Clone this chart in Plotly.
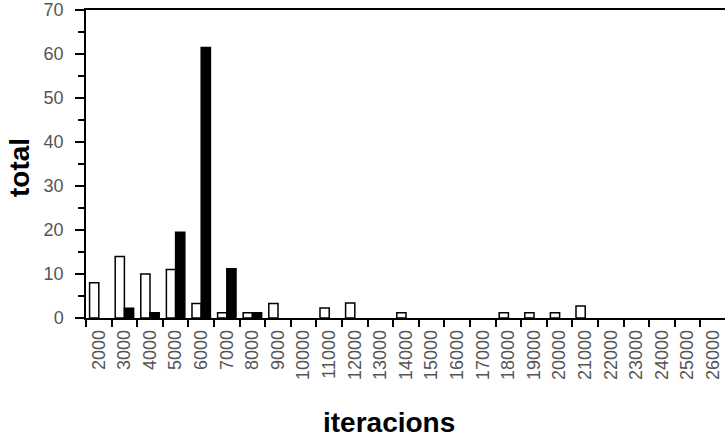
import plotly.graph_objects as go

categories = [str(v) for v in range(2000, 27000, 1000)]
white_values = [8, 14, 10, 11, 3.3, 1.2, 1.2, 3.3, 0, 2.3, 3.4, 0, 1.2, 0, 0, 0,
                1.2, 1.2, 1.2, 2.7, 0, 0, 0, 0, 0]
black_values = [0, 2.2, 1.2, 19.5, 61.5, 11.2, 1.2, 0, 0, 0, 0, 0, 0, 0, 0, 0,
                0, 0, 0, 0, 0, 0, 0, 0, 0]
y_title = "total"
x_title = "iteracions"


def outline_widths(values):
    return [1.5 if v > 0 else 0 for v in values]


fig = go.Figure()
fig.add_trace(go.Bar(x=categories, y=white_values, name="a",
                     marker=dict(color="white",
                                 line=dict(color="black", width=outline_widths(white_values)))))
fig.add_trace(go.Bar(x=categories, y=black_values, name="b",
                     marker=dict(color="black",
                                 line=dict(color="black", width=outline_widths(black_values)))))

tickfont = dict(family="Liberation Sans, Arial, sans-serif", size=18, color="#555")

fig.update_layout(
    width=725, height=437,
    margin=dict(l=86, r=0, t=10, b=119, autoexpand=False),
    paper_bgcolor="white", plot_bgcolor="white",
    showlegend=False,
    barmode="group", bargap=0.28, bargroupgap=0,
    xaxis=dict(type="category", range=[-0.5, 24.46], automargin=False,
               showline=True, linecolor="black", linewidth=1.5, mirror=True,
               ticks="outside", tickson="boundaries", ticklen=7, tickwidth=1.5,
               tickcolor="black", tickangle=-90, tickfont=tickfont,
               showgrid=False, zeroline=False, ticklabelstandoff=3),
    yaxis=dict(range=[0, 70], dtick=10, automargin=False,
               showline=True, linecolor="black", linewidth=1.5,
               ticks="outside", ticklen=9, tickwidth=1.5, tickcolor="black",
               minor=dict(dtick=5, ticks="outside", ticklen=6, tickwidth=1.5, tickcolor="black"),
               tickfont=tickfont, showgrid=False, zeroline=False, ticklabelstandoff=8),
    annotations=[
        dict(text="<b>" + y_title + "</b>", xref="paper", yref="paper",
             x=-0.105, y=0.49, textangle=-90, showarrow=False,
             xanchor="center", yanchor="middle",
             font=dict(family="Liberation Sans, Arial, sans-serif", size=28, color="black")),
        dict(text="<b>" + x_title + "</b>", xref="paper", yref="paper",
             x=0.474, y=-0.338, showarrow=False,
             xanchor="center", yanchor="middle",
             font=dict(family="Liberation Sans, Arial, sans-serif", size=28, color="black")),
    ],
)

fig.write_html("out.html", config={"displayModeBar": False},
               post_script="document.body.style.margin='0px';document.body.style.overflow='hidden';")
